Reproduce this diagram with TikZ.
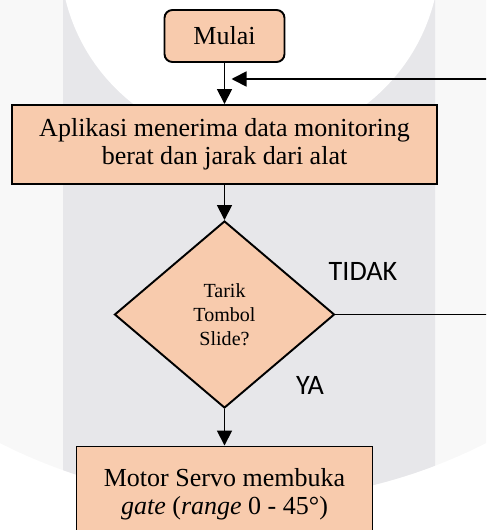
\documentclass[tikz,border=0pt]{standalone}
\usepackage{fontspec}
\setmainfont{Liberation Serif}
\newfontfamily\labelfont{Carlito}
\usetikzlibrary{arrows.meta, shapes.geometric}

\definecolor{peach}{HTML}{F8CBAD}
\definecolor{markgray}{HTML}{E7E7EA}
\definecolor{markfaint}{HTML}{F8F8F8}

\begin{document}
\begin{tikzpicture}
[line join=miter,
box/.style={draw, line width=1.1pt, fill=peach, align=center, inner sep=2pt, font=\fontsize{14.8}{16.2}\selectfont},
start/.style={box, rounded corners=0.16cm, minimum width=2.4cm, minimum height=1.04cm},
decision/.style={box, diamond, aspect=1.18, minimum width=4.4cm, minimum height=3.74cm, inner sep=0pt, font=\fontsize{11.4}{13.6}\selectfont},
arrow/.style={line width=1pt, -{Triangle[length=0.3cm, width=0.3cm]}},
answer/.style={font=\labelfont\fontsize{16}{19}\selectfont, inner sep=0pt}
]

\useasboundingbox (0,0) rectangle (9.72,-10.6);
\clip (0,0) rectangle (9.72,-10.6);

% watermark behind the chart
\fill[markfaint] (4.86,0.74) circle (10.76);
\begin{scope}
\clip (1.26,0.1) rectangle (8.70,-10.7);
\fill[markgray] (4.86,0.74) circle (10.76);
\fill[white] (5.0,0.92) circle (3.8);
\end{scope}

% position steps
\path
(4.49,-0.72) coordinate (c1)
(4.49,-2.86) coordinate (c2)
(4.49,-6.29) coordinate (c3)
(4.49,-9.88) coordinate (c4)
(10.0,-1.58) coordinate (r1)
(r1 -| c1) ++(0.14,0) coordinate (r2)
;

% steps
\node[start] (mulai) at (c1) {Mulai};
\node[box, minimum width=8.5cm, minimum height=1.58cm, yshift=-0.03cm] (terima) at (c2)
{Aplikasi menerima data monitoring\\berat dan jarak dari alat};
\node[decision] (tarik) at (c3) {Tarik\\Tombol\\Slide?};
\node[box, minimum width=5.92cm, minimum height=1.9cm] (servo) at (c4)
{Motor Servo membuka\\\textit{gate} (\textit{range} 0 - 45°)};

% connectors
\draw[arrow] (mulai) -- (terima);
\draw[arrow] (terima) -- (tarik);
\draw[arrow] (tarik) -- (servo);
\draw[arrow] (r1) -- (r2);
\draw[line width=0.6pt] (tarik.east) -- (tarik.east -| r1);

\node[answer] (tidak) at (7.26,-5.42) {TIDAK};
\node[answer] (ya) at (6.20,-7.70) {YA};

\end{tikzpicture}
\end{document}
